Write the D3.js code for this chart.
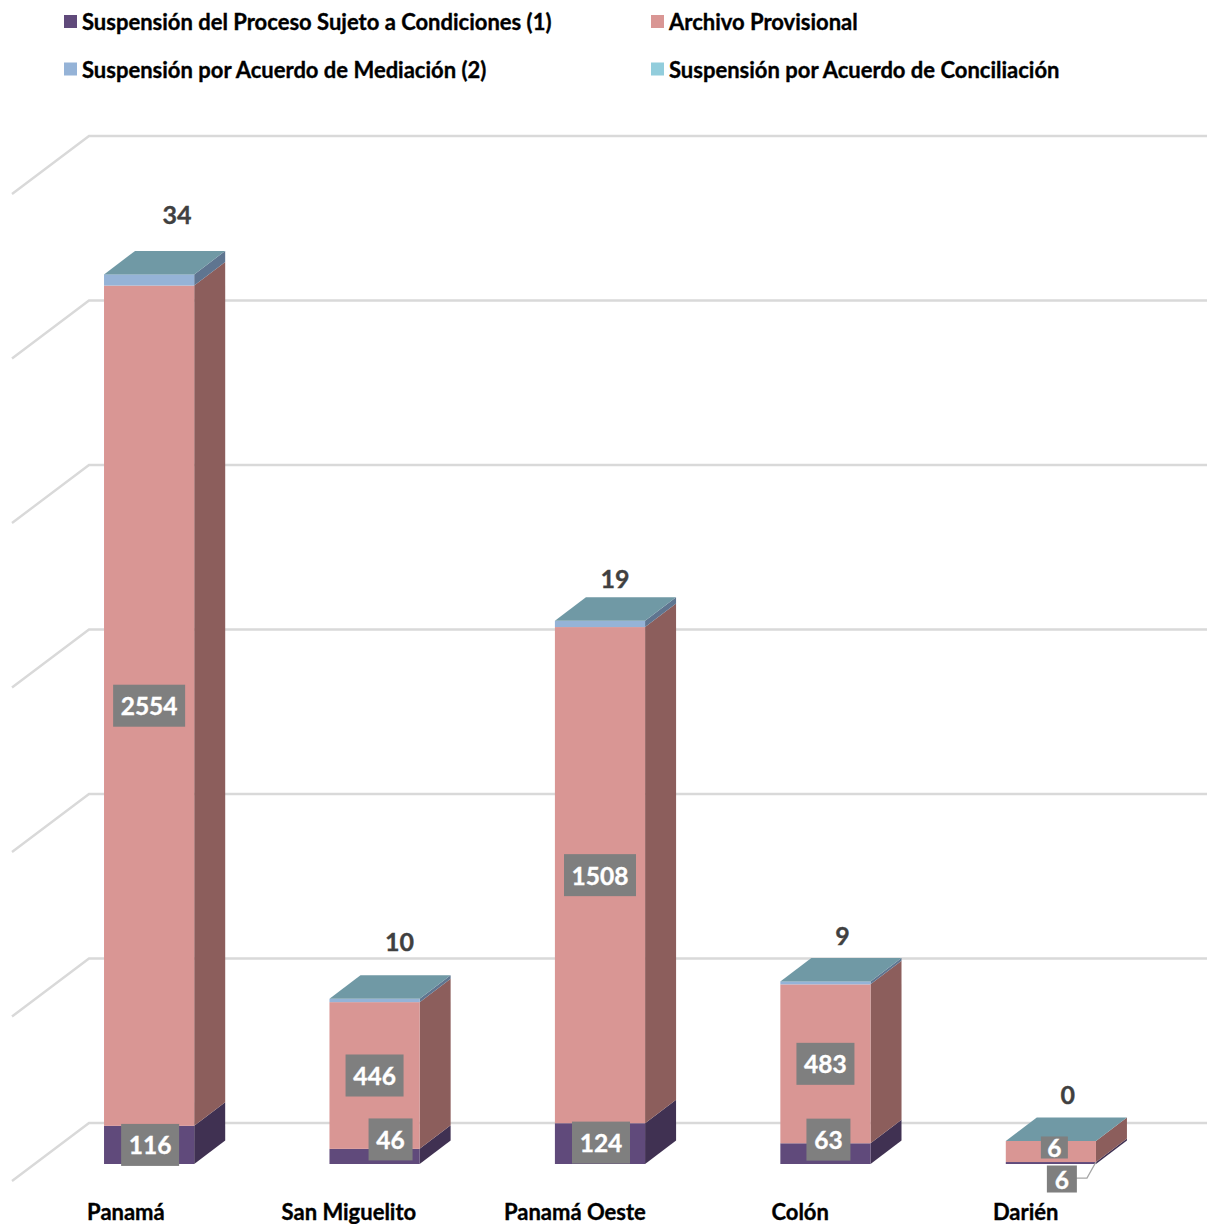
<!DOCTYPE html>
<html><head><meta charset="utf-8">
<script src="https://cdnjs.cloudflare.com/ajax/libs/d3/7.8.5/d3.min.js"></script>
<style>html,body{margin:0;padding:0;background:#fff}svg{display:block}text{font-family:Lato,"Open Sans",sans-serif;font-weight:700;paint-order:stroke;stroke-width:.35px}</style>
</head><body><div id="c"></div>
<script>
const categories=["Panamá","San Miguelito","Panamá Oeste","Colón","Darién"];
const seriesNames=["Suspensión del Proceso Sujeto a Condiciones (1)","Archivo Provisional","Suspensión por Acuerdo de Mediación (2)","Suspensión por Acuerdo de Conciliación"];
const proceso=[116,46,124,63,6];
const archivo=[2554,446,1508,483,64];
const mediacion=[34,10,19,9,0];
const conciliacion=[0,0,0,0,0];
const archivoLabels=["2554","446","1508","483","6"];
const procesoLabels=["116","46","124","63","6"];
const gridTicks=[0,500,1000,1500,2000,2500,3000];
const front=["#604A7B","#D99694","#95B3D7","#92CDDC"];
const side=["#403152","#8C5E5C","#5F7590","#5F8894"];
const topFace="#7099A5";
const W=1207,H=1224;
const svg=d3.select("#c").append("svg").attr("width",W).attr("height",H);
const x=d3.scaleBand().domain(categories).range([36.4,1163.6]).paddingInner(0.6).paddingOuter(0.3);
const y=d3.scaleLinear().domain([0,3000]).range([1164,177]);
const dx=31,dy=-23.5;
const gridBack=-41,gx0=12,gx1=89;
svg.append("g").selectAll("path").data(gridTicks).join("path")
 .attr("fill","none").attr("stroke","#D9D9D9").attr("stroke-width",2.4)
 .attr("d",t=>{const b=y(t)+gridBack;return `M${gx0},${b+58}L${gx1},${b}L${W},${b}`});
const rows=categories.map((c,i)=>({c,a:proceso[i],b:archivo[i],m:mediacion[i],k:conciliacion[i]}));
const stack=d3.stack().keys(["a","b","m","k"])(rows);
const bars=svg.append("g");
stack.forEach((s,si)=>{
 s.forEach((d,i)=>{
  if(d[1]===d[0])return;
  const c=categories[i],l=x(c),r=l+x.bandwidth(),t=y(d[1]),b=y(d[0]);
  bars.append("path").attr("fill",side[si]).attr("d",`M${r},${b}L${r+dx},${b+dy}L${r+dx},${t+dy}L${r},${t}Z`);
  bars.append("rect").attr("x",l).attr("y",t).attr("width",x.bandwidth()).attr("height",b-t).attr("fill",front[si]);
 });
});
const topOff=[[28,-60],[25,-58],[15,-43],[17,-46],[17,-47]];
const catOff=[-62,-93,-96,-54,-58];
categories.forEach((c,i)=>{
 const l=x(c),r=l+x.bandwidth(),mid=l+x.bandwidth()/2,t=y(proceso[i]+archivo[i]+mediacion[i]+conciliacion[i]);
 bars.append("path").attr("fill",topFace).attr("d",`M${l},${t}L${l+dx},${t+dy}L${r+dx},${t+dy}L${r},${t}Z`);
 svg.append("text").attr("x",mid+topOff[i][0]).attr("y",t+topOff[i][1]).attr("text-anchor","middle").attr("dominant-baseline","central")
  .attr("font-size",25).attr("fill","#404040").attr("stroke","#404040").text(mediacion[i]);
 svg.append("text").attr("x",mid+catOff[i]).attr("y",1211).attr("dominant-baseline","central")
  .attr("font-size",22).attr("fill","#000").attr("stroke","#000").text(c);
});
function label(cx,cy,w,h,t){
 svg.append("rect").attr("x",cx-w/2).attr("y",cy-h/2).attr("width",w).attr("height",h).attr("fill","#7F7F7F");
 svg.append("text").attr("x",cx).attr("y",cy).attr("text-anchor","middle").attr("dominant-baseline","central").attr("font-size",24.5).attr("fill","#fff").attr("stroke","#fff").text(t);
}
const pOff=[[1,0,58,42],[16,-17,44,42],[1,-1,58,42],[3,-14,44,42],[11,16,30,27]];
const aOff=[[0,0,72,42],[0,0,58,42],[0,0,72,42],[0,0,58,42],[3.5,-4,27,22]];
const dl=x("Darién")+x.bandwidth();
svg.append("path").attr("fill","none").attr("stroke","#A6A6A6").attr("stroke-width",1.3)
 .attr("d",`M${dl-20},${y(6)+16}L${dl-9},${y(6)+16}L${dl},${y(6)}`);
categories.forEach((c,i)=>{
 const cx=x(c)+x.bandwidth()/2,o=aOff[i],p=pOff[i];
 label(cx+o[0],(y(proceso[i])+y(proceso[i]+archivo[i]))/2+o[1],o[2],o[3],archivoLabels[i]);
 label(cx+p[0],(y(0)+y(proceso[i]))/2+p[1],p[2],p[3],procesoLabels[i]);
});
const legPos=[[64,21.5],[651,21.5],[64,69],[651,69]];
seriesNames.forEach((n,i)=>{
 const [lx,ly]=legPos[i];
 svg.append("rect").attr("x",lx).attr("y",ly-6.5).attr("width",13).attr("height",13).attr("fill",front[i]);
 svg.append("text").attr("x",lx+18).attr("y",ly).attr("dominant-baseline","central").attr("font-size",22).attr("fill","#000").attr("stroke","#000").text(n);
});
</script></body></html>
